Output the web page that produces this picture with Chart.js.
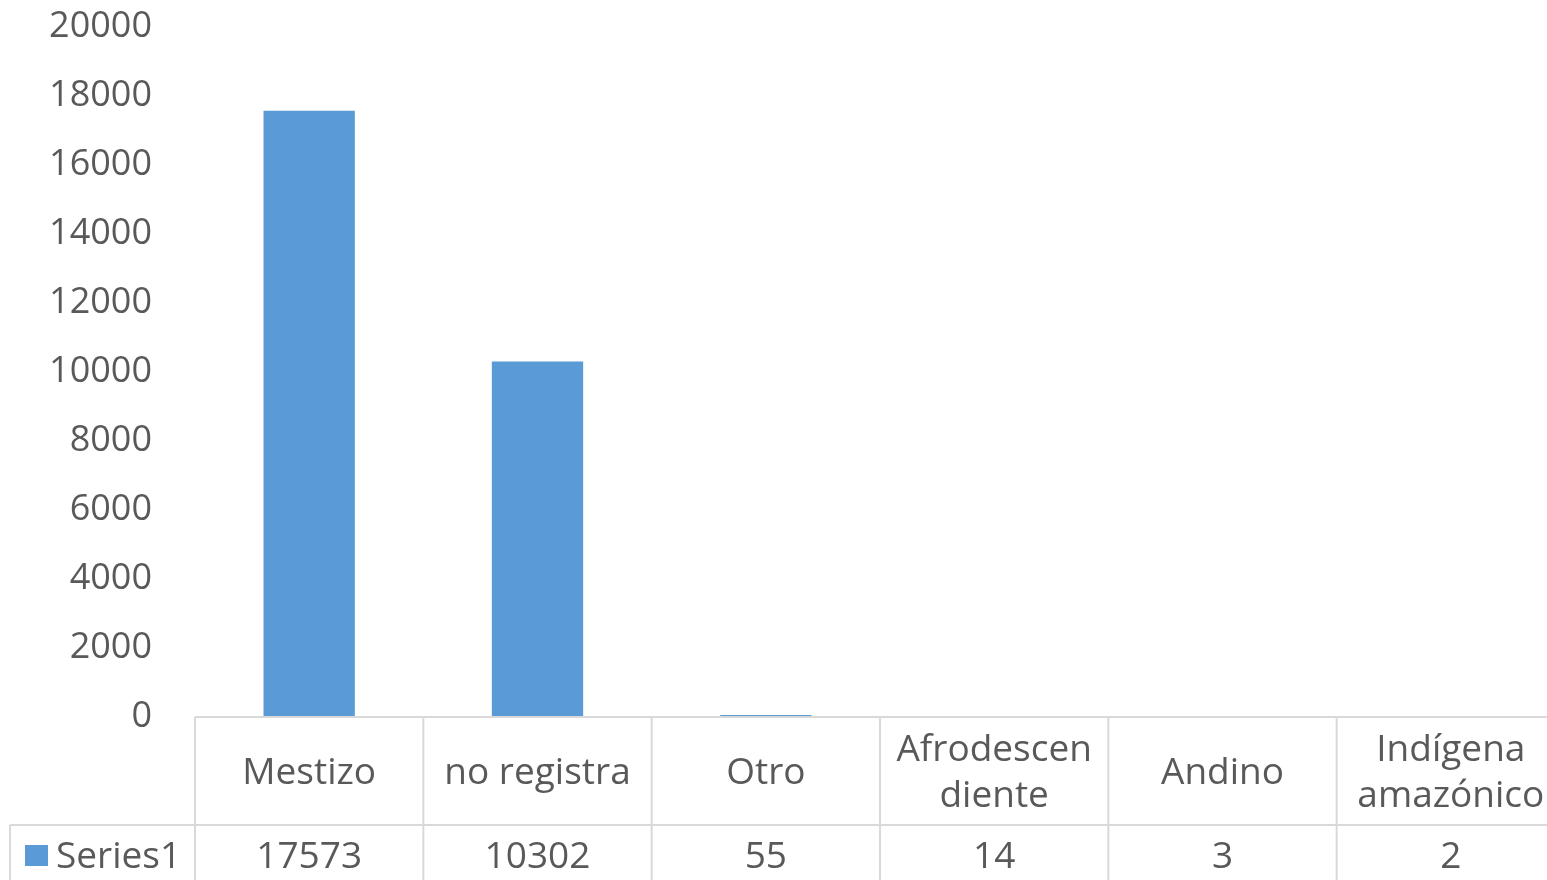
<!DOCTYPE html>
<html>
<head>
<meta charset="utf-8">
<script src="https://cdn.jsdelivr.net/npm/chart.js@4.4.0/dist/chart.umd.min.js"></script>
<style>
html,body{margin:0;padding:0;overflow:hidden;background:#fff;}
#wrap{width:1566px;height:880px;}
</style>
</head>
<body>
<div id="wrap"><canvas id="c" width="1566" height="880"></canvas></div>
<script>
const categories = [["Mestizo"], ["no registra"], ["Otro"], ["Afrodescen","diente"], ["Andino"], ["Indígena","amazónico"]];
const seriesName = "Series1";
const values = [17573, 10302, 55, 14, 3, 2];
const yTicks = [0, 2000, 4000, 6000, 8000, 10000, 12000, 14000, 16000, 18000, 20000];

const FONT = "'Open Sans', 'Noto Sans', sans-serif";
const TXT = "#595959";
const GRID = "#D9D9D9";
const BAR = "#5B9BD5";

const tablePlugin = {
  id: 'dataTable',
  afterDraw(chart) {
    const ctx = chart.ctx;
    const xs = chart.scales.x;
    const area = chart.chartArea;
    const n = categories.length;
    const step = (area.right - area.left) / n;
    const top = area.bottom;
    const mid = top + 108;
    const bottom = chart.height + 5;
    ctx.save();
    ctx.strokeStyle = GRID;
    ctx.lineWidth = 2;
    ctx.beginPath();
    ctx.moveTo(area.left, top); ctx.lineTo(area.right + 2, top);
    ctx.moveTo(10, mid); ctx.lineTo(area.right + 2, mid);
    for (let i = 0; i <= n; i++) {
      const x = area.left + i * step;
      ctx.moveTo(x, top); ctx.lineTo(x, bottom);
    }
    ctx.moveTo(10, mid); ctx.lineTo(10, bottom);
    ctx.stroke();

    ctx.fillStyle = TXT;
    ctx.font = "37px " + FONT;
    ctx.textAlign = 'center';
    ctx.textBaseline = 'middle';
    for (let i = 0; i < n; i++) {
      const cx = xs.getPixelForValue(i);
      const lines = categories[i];
      const lh = 46;
      const y0 = (top + mid) / 2 + 2 - (lines.length - 1) * lh / 2;
      lines.forEach((l, k) => ctx.fillText(l, cx, y0 + k * lh));
      ctx.fillText(String(values[i]), cx, mid + 32);
    }
    // legend key + series name
    ctx.fillStyle = BAR;
    ctx.fillRect(25, 845, 23, 21);
    ctx.fillStyle = TXT;
    ctx.textAlign = 'left';
    ctx.fillText(seriesName, 56, mid + 32);
    ctx.restore();
  }
};

new Chart(document.getElementById('c'), {
  type: 'bar',
  data: {
    labels: categories.map(c => c.join(' ')),
    datasets: [{
      label: seriesName,
      data: values,
      backgroundColor: BAR,
      borderWidth: 0,
      categoryPercentage: 1,
      barPercentage: 0.4
    }]
  },
  options: {
    responsive: false,
    animation: false,
    devicePixelRatio: 1,
    layout: { padding: { top: 27, bottom: 163, right: 1, left: 0 } },
    plugins: { legend: { display: false }, tooltip: { enabled: false } },
    scales: {
      x: { display: false, offset: true },
      y: {
        min: 0, max: 20000,
        afterFit: s => { s.width = 195; s.paddingTop = 0; s.paddingBottom = 0; },
        afterBuildTicks: s => { s.ticks = yTicks.map(v => ({ value: v })); },
        grid: { display: false, drawTicks: false },
        border: { display: false },
        ticks: {
          color: TXT,
          font: { family: FONT, size: 36 },
          padding: 43,
          callback: v => String(v)
        }
      }
    }
  },
  plugins: [tablePlugin]
});
</script>
</body>
</html>
